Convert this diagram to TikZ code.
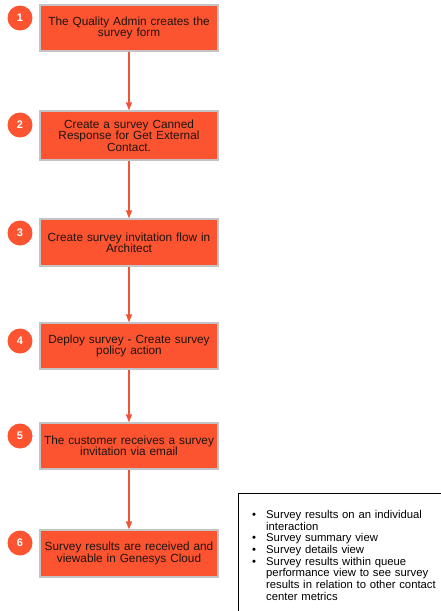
\documentclass[tikz,border=0pt]{standalone}
\usepackage{fontspec}
\setmainfont{Liberation Sans}
\usetikzlibrary{arrows.meta}
\definecolor{boxfill}{RGB}{252,84,48}
\definecolor{boxline}{RGB}{196,196,196}
\definecolor{arrowc}{RGB}{240,84,52}
\definecolor{txt}{RGB}{30,20,15}
\tikzset{
  stepbox/.style={draw=boxline, line width=1.2pt, fill=boxfill, minimum width=178pt, text width=176pt, align=center, inner sep=0pt, font=\fontsize{11.8}{11.4}\selectfont, text=txt},
  numdot/.style={circle, fill=boxfill, minimum size=25pt, inner sep=0pt, text=white, font=\fontsize{11}{12}\selectfont\bfseries},
  flow/.style={draw=arrowc, line width=1.2pt, -{Triangle[width=6pt,length=8pt]}}
}
\newcommand{\bul}{\makebox[14pt][l]{\textbullet}}
\newcommand{\ind}{\hspace*{14pt}}
\begin{document}
\begin{tikzpicture}[x=1pt,y=-1pt]
\useasboundingbox (0,0) rectangle (441,611);
\node[stepbox, minimum height=46pt] (b1) at (129,28) {The Quality Admin creates the\\survey form};
\node[stepbox, minimum height=49pt] (b2) at (129,135.5) {Create a survey Canned\\Response for Get External\\Contact.};
\node[stepbox, minimum height=47pt] (b3) at (129,242.5) {Create survey invitation flow in\\Architect};
\node[stepbox, minimum height=46pt] (b4) at (129,346) {Deploy survey - Create survey\\policy action};
\node[stepbox, minimum height=46pt] (b5) at (129,446) {The customer receives a survey\\invitation via email};
\node[stepbox, minimum height=47pt] (b6) at (129,553.5) {Survey results are received and\\viewable in Genesys Cloud};
\node[numdot] (n1) at (20,18) {1};
\node[numdot] (n2) at (20,125) {2};
\node[numdot] (n3) at (20,233) {3};
\node[numdot] (n4) at (20,341) {4};
\node[numdot] (n5) at (20,436) {5};
\node[numdot] (n6) at (20,543) {6};
\draw[flow] (b1) -- (b2);
\draw[flow] (b2) -- (b3);
\draw[flow] (b3) -- (b4);
\draw[flow] (b4) -- (b5);
\draw[flow] (b5) -- (b6);
\draw[line width=1pt, black] (238,620) -- (238,493) -- (450,493);
\node[anchor=north west, inner sep=0pt, text width=200pt, font=\fontsize{11.3}{11.7}\selectfont, align=left] (notes) at (252,510) {%
\bul Survey results on an individual\\
\ind interaction\\
\bul Survey summary view\\
\bul Survey details view\\
\bul Survey results within queue\\
\ind performance view to see survey\\
\ind results in relation to other contact\\
\ind center metrics};
\end{tikzpicture}
\end{document}
